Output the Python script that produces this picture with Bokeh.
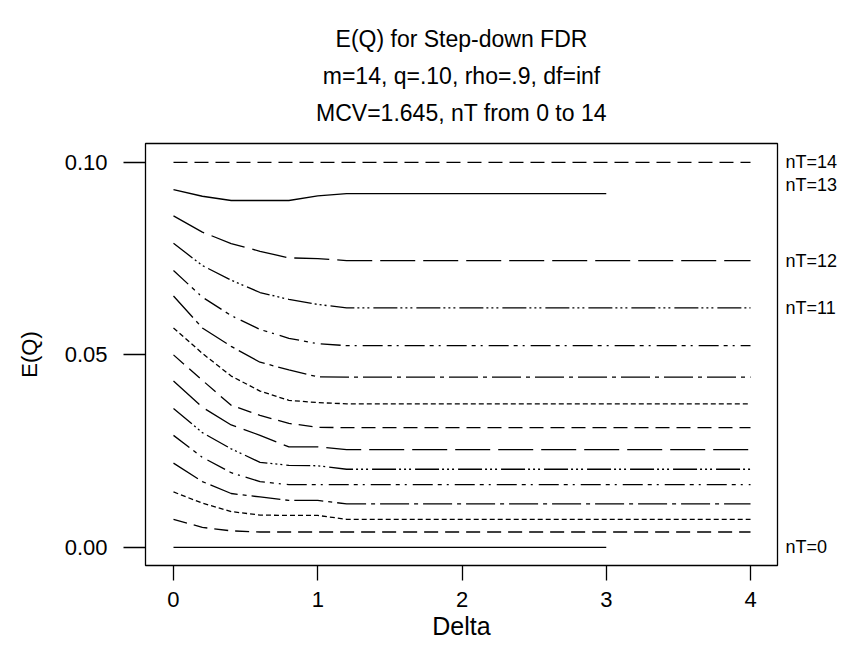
from bokeh.plotting import figure
from bokeh.models import Range1d, LinearAxis, FixedTicker, Title, NumeralTickFormatter
from bokeh.embed import file_html
from bokeh.resources import INLINE

# ---- data ----
delta = [0.0, 0.2, 0.4, 0.6, 0.8, 1.0, 1.2, 2.0, 3.0, 4.0]
delta_to3 = [0.0, 0.2, 0.4, 0.6, 0.8, 1.0, 1.2, 2.0, 3.0]

eq_nT0 = [0.0, 0.0, 0.0, 0.0, 0.0, 0.0, 0.0, 0.0, 0.0]
eq_nT1 = [0.0073, 0.0052, 0.0043, 0.0040, 0.0040, 0.0040, 0.0040, 0.0040, 0.0040, 0.0040]
eq_nT2 = [0.0144, 0.0115, 0.0093, 0.0084, 0.0083, 0.0083, 0.0073, 0.0073, 0.0073, 0.0073]
eq_nT3 = [0.0219, 0.0171, 0.0140, 0.0131, 0.0122, 0.0122, 0.0113, 0.0113, 0.0113, 0.0113]
eq_nT4 = [0.0291, 0.0234, 0.0194, 0.0171, 0.0163, 0.0163, 0.0163, 0.0163, 0.0163, 0.0163]
eq_nT5 = [0.0361, 0.0298, 0.0256, 0.0221, 0.0213, 0.0212, 0.0203, 0.0203, 0.0203, 0.0203]
eq_nT6 = [0.0432, 0.0364, 0.0318, 0.0291, 0.0261, 0.0261, 0.0254, 0.0254, 0.0254, 0.0254]
eq_nT7 = [0.0500, 0.0434, 0.0369, 0.0343, 0.0322, 0.0312, 0.0311, 0.0311, 0.0311, 0.0311]
eq_nT8 = [0.0570, 0.0504, 0.0445, 0.0406, 0.0382, 0.0376, 0.0373, 0.0373, 0.0373, 0.0373]
eq_nT9 = [0.0653, 0.0570, 0.0522, 0.0481, 0.0461, 0.0443, 0.0442, 0.0442, 0.0442, 0.0442]
eq_nT10 = [0.0719, 0.0650, 0.0602, 0.0566, 0.0543, 0.0529, 0.0524, 0.0524, 0.0524, 0.0524]
eq_nT11 = [0.0790, 0.0732, 0.0694, 0.0662, 0.0644, 0.0631, 0.0622, 0.0622, 0.0622, 0.0622]
eq_nT12 = [0.0861, 0.0819, 0.0789, 0.0769, 0.0752, 0.0750, 0.0745, 0.0745, 0.0745, 0.0745]
eq_nT13 = [0.0929, 0.0912, 0.0901, 0.0901, 0.0901, 0.0913, 0.0919, 0.0919, 0.0919]
eq_nT14 = [0.1000, 0.1000, 0.1000, 0.1000, 0.1000, 0.1000, 0.1000, 0.1000, 0.1000, 0.1000]

x_ticks = [0, 1, 2, 3, 4]
y_ticks = [0.0, 0.05, 0.10]
right_label_pos = [0.1000, 0.0940, 0.0743, 0.0621, 0.0]
right_label_text = ["nT=14", "nT=13", "nT=12", "nT=11", "nT=0"]

title_lines = ["E(Q) for Step-down FDR",
               "m=14, q=.10, rho=.9, df=inf",
               "MCV=1.645, nT from 0 to 14"]

# ---- styles ----
FONT = "Liberation Sans"
series = [
    (delta_to3, eq_nT0, "solid"),
    (delta, eq_nT1, "14 7"),
    (delta, eq_nT2, "5 3"),
    (delta, eq_nT3, "29 5 4 5"),
    (delta, eq_nT4, "20 5 4 5 2 6"),
    (delta, eq_nT5, "24 3 2 3 2 3 2 4"),
    (delta, eq_nT6, "35 8"),
    (delta, eq_nT7, "14 7"),
    (delta, eq_nT8, "5 3"),
    (delta, eq_nT9, "29 5 4 5"),
    (delta, eq_nT10, "20 5 4 5 2 6"),
    (delta, eq_nT11, "24 3 2 3 2 3 2 4"),
    (delta, eq_nT12, "35 8"),
    (delta_to3, eq_nT13, "solid"),
    (delta, eq_nT14, "14 7"),
]

p = figure(width=851, height=648, output_backend="svg", toolbar_location=None,
           x_range=Range1d(-0.194, 4.187), y_range=Range1d(-0.0047, 0.1049),
           min_border_left=145, min_border_right=74, min_border_top=143,
           min_border_bottom=83)

p.background_fill_color = "white"
p.border_fill_color = "white"
p.outline_line_color = "black"
p.outline_line_width = 1.3
p.xgrid.visible = False
p.ygrid.visible = False

for xs, ys, dash in series:
    p.line(xs, ys, line_color="black", line_width=1.3, line_dash=dash)

# x axis
xa = p.xaxis[0]
xa.ticker = FixedTicker(ticks=x_ticks)
xa.axis_line_color = None
xa.major_tick_out = 15
xa.major_tick_in = 0
xa.major_tick_line_color = "black"
xa.major_tick_line_width = 1.3
xa.minor_tick_line_color = None
xa.major_label_standoff = 11
xa.major_label_text_font = FONT
xa.major_label_text_font_size = "22px"
xa.major_label_text_color = "black"
xa.axis_label = "Delta"
xa.axis_label_text_font = FONT
xa.axis_label_text_font_size = "25px"
xa.axis_label_text_font_style = "normal"
xa.axis_label_text_color = "black"
xa.axis_label_standoff = 2

# y axis
ya = p.yaxis[0]
ya.ticker = FixedTicker(ticks=y_ticks)
ya.formatter = NumeralTickFormatter(format="0.00")
ya.axis_line_color = None
ya.major_tick_out = 22
ya.major_tick_in = 0
ya.major_tick_line_color = "black"
ya.major_tick_line_width = 1.3
ya.minor_tick_line_color = None
ya.major_label_standoff = 16
ya.major_label_orientation = "horizontal"
ya.major_label_text_font = FONT
ya.major_label_text_font_size = "22px"
ya.major_label_text_color = "black"
ya.axis_label = "E(Q)"
ya.axis_label_text_font = FONT
ya.axis_label_text_font_size = "22px"
ya.axis_label_text_font_style = "normal"
ya.axis_label_text_color = "black"
ya.axis_label_standoff = 20

# right-side labels as an axis
ra = LinearAxis(ticker=FixedTicker(ticks=right_label_pos),
                major_label_overrides={v: t for v, t in zip(right_label_pos, right_label_text)})
ra.axis_line_color = None
ra.major_tick_line_color = None
ra.major_tick_out = 0
ra.major_tick_in = 0
ra.minor_tick_line_color = None
ra.major_label_standoff = 8
ra.major_label_text_font = FONT
ra.major_label_text_font_size = "18px"
ra.major_label_text_color = "black"
p.add_layout(ra, "right")

# titles: p.title is outermost; added titles stack outward from the plot
title_style = dict(align="center", text_font=FONT,
                   text_font_size="23px", text_font_style="normal", text_color="black")
p.title.text = title_lines[0]
p.title.standoff = 35.5
for k, v in title_style.items():
    setattr(p.title, k, v)
p.add_layout(Title(text=title_lines[2], standoff=35.5, **title_style), "above")
p.add_layout(Title(text=title_lines[1], standoff=-18.5, **title_style), "above")

open("out.html", "w").write(file_html(p, INLINE))
